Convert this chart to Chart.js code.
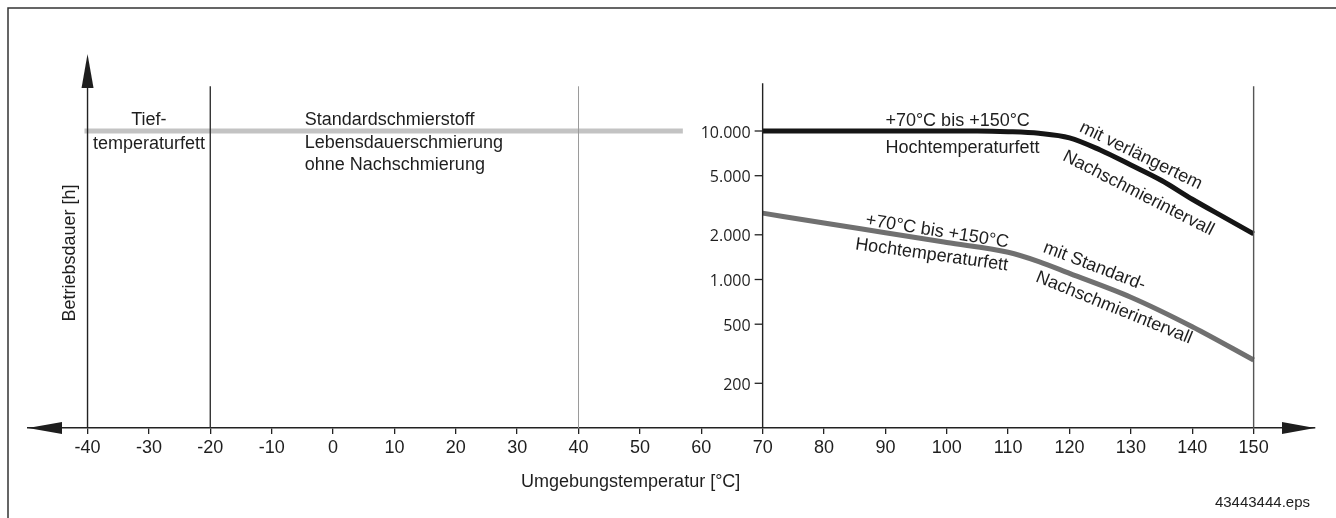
<!DOCTYPE html>
<html>
<head>
<meta charset="utf-8">
<script src="https://cdn.jsdelivr.net/npm/chart.js@4.4.1/dist/chart.umd.min.js"></script>
<style>
  body { margin: 0; background: #fff; }
  canvas { display: block; }
</style>
</head>
<body>
<canvas id="myChart" width="1336" height="518"></canvas>
<script>
// x axis tick values [°C]
const xTicks = [-40, -30, -20, -10, 0, 10, 20, 30, 40, 50, 60, 70, 80, 90, 100, 110, 120, 130, 140, 150];
// log axis ticks [h] (drawn at 70 °C)
const yTicks = [200, 500, 1000, 2000, 5000, 10000];
const yTickLabels = ['200', '500', '1.000', '2.000', '5.000', '10.000'];

// Standardschmierstoff, Lebensdauerschmierung
const stdTemps = [-40.5, 57];
const stdHours = [10000, 10000];

// Hochtemperaturfett, verlaengertes Nachschmierintervall
const extTemps = [70, 80, 90, 100, 105, 110, 115, 120, 125, 130, 135, 140, 145, 150];
const extHours = [10000, 10000, 10000, 10000, 10000, 9900, 9650, 9000, 7450, 5900, 4640, 3470, 2650, 2030];

// Hochtemperaturfett, Standard-Nachschmierintervall
const normTemps = [70, 80, 90, 100, 110, 115, 120, 130, 140, 150];
const normHours = [2800, 2400, 2065, 1775, 1525, 1320, 1100, 760, 481, 287];

// vertical separators
const sepTemps = [-20, 40, 70, 150];
const sepTop = [20000, 20000, 21000, 20000];
const sepColors = ['#333', '#9a9a9a', '#222', '#555'];

const textFont = '"Liberation Sans", Arial, sans-serif';
const ink = '#1e1e1e';

// annotation texts, positioned in data units
const notes = [
  { t: 'Tief-', x: -30, y: 12250, align: 'center', rot: 0 },
  { t: 'temperaturfett', x: -30, y: 8550, align: 'center', rot: 0 },
  { t: 'Standardschmierstoff', x: -4.6, y: 12250, align: 'left', rot: 0 },
  { t: 'Lebensdauerschmierung', x: -4.6, y: 8690, align: 'left', rot: 0 },
  { t: 'ohne Nachschmierung', x: -4.6, y: 6180, align: 'left', rot: 0 },
  { t: '+70°C bis +150°C', x: 90, y: 12050, align: 'left', rot: 0 },
  { t: 'Hochtemperaturfett', x: 90, y: 7930, align: 'left', rot: 0 },
  { t: 'mit verlängertem', x: 131.8, y: 7050, align: 'center', rot: 26 },
  { t: 'Nachschmierintervall', x: 131.4, y: 3940, align: 'center', rot: 27 },
  { t: '+70°C bis +150°C', x: 98.5, y: 2190, align: 'center', rot: 9 },
  { t: 'Hochtemperaturfett', x: 97.6, y: 1521, align: 'center', rot: 8 },
  { t: 'mit Standard-', x: 124.2, y: 1270, align: 'center', rot: 21 },
  { t: 'Nachschmierintervall', x: 127.4, y: 667, align: 'center', rot: 22 }
];

function pts(xs, ys) {
  return xs.map((v, i) => ({ x: v, y: ys[i] }));
}

const datasets = [];
sepTemps.forEach((t, i) => {
  datasets.push({
    data: [{ x: t, y: 100 }, { x: t, y: sepTop[i] }],
    borderColor: sepColors[i],
    borderWidth: i === 1 ? 1 : 1.4,
    pointRadius: 0
  });
});
datasets.push({
  data: pts(extTemps, extHours),
  borderColor: '#151515',
  borderWidth: 5,
  pointRadius: 0,
  cubicInterpolationMode: 'monotone'
});
datasets.push({
  data: pts(normTemps, normHours),
  borderColor: '#707070',
  borderWidth: 5,
  pointRadius: 0,
  cubicInterpolationMode: 'monotone'
});
datasets.push({
  data: pts(stdTemps, stdHours),
  borderColor: '#c3c3c3',
  borderWidth: 5,
  pointRadius: 0
});

function arrow(ctx, tx, ty, bx, by, half) {
  const dx = tx - bx, dy = ty - by;
  const len = Math.hypot(dx, dy);
  const nx = -dy / len, ny = dx / len;
  ctx.beginPath();
  ctx.moveTo(tx, ty);
  ctx.lineTo(bx + nx * half, by + ny * half);
  ctx.lineTo(bx - nx * half, by - ny * half);
  ctx.closePath();
  ctx.fill();
}

const decor = {
  id: 'decor',
  beforeDraw(chart) {
    const ctx = chart.ctx;
    ctx.save();
    ctx.fillStyle = '#fff';
    ctx.fillRect(0, 0, chart.width, chart.height);
    // frame
    ctx.strokeStyle = '#333';
    ctx.lineWidth = 1.5;
    ctx.beginPath();
    ctx.moveTo(8, chart.height);
    ctx.lineTo(8, 8);
    ctx.lineTo(chart.width, 8);
    ctx.stroke();
    ctx.restore();
  },
  afterDatasetsDraw(chart) {
    const ctx = chart.ctx;
    const area = chart.chartArea;
    const xs = chart.scales.x, ys = chart.scales.y;
    ctx.save();
    ctx.fillStyle = ink;
    ctx.strokeStyle = '#222';

    // y axis at -40 with arrow
    const x0 = xs.getPixelForValue(-40);
    ctx.lineWidth = 1.4;
    ctx.beginPath();
    ctx.moveTo(x0, area.bottom);
    ctx.lineTo(x0, area.top + 30);
    ctx.stroke();
    arrow(ctx, x0, area.top, x0, area.top + 34, 6);

    // x axis arrows
    const yAx = area.bottom;
    arrow(ctx, area.left, yAx, area.left + 34, yAx, 6);
    arrow(ctx, area.right, yAx, area.right - 33, yAx, 6);

    // log ticks on the 70 °C line
    const x70 = xs.getPixelForValue(70);
    ctx.lineWidth = 1.3;
    ctx.font = '16px "Open Sans", sans-serif';
    ctx.textAlign = 'right';
    ctx.textBaseline = 'middle';
    yTicks.forEach((v, i) => {
      const py = ys.getPixelForValue(v);
      ctx.beginPath();
      ctx.moveTo(x70 - 8, py);
      ctx.lineTo(x70, py);
      ctx.stroke();
      ctx.fillText(yTickLabels[i], x70 - 12, py + 2);
    });

    // annotations
    ctx.font = '18px ' + textFont;
    notes.forEach(n => {
      const px = xs.getPixelForValue(n.x);
      const py = ys.getPixelForValue(n.y);
      ctx.save();
      ctx.translate(px, py);
      ctx.rotate(n.rot * Math.PI / 180);
      ctx.textAlign = n.align;
      ctx.textBaseline = 'middle';
      ctx.fillText(n.t, 0, 2.5);
      ctx.restore();
    });

    // axis titles
    ctx.textAlign = 'center';
    ctx.textBaseline = 'middle';
    ctx.fillText('Umgebungstemperatur [°C]', xs.getPixelForValue(48.5), area.bottom + 54);
    ctx.save();
    ctx.translate(x0 - 18, area.top + 199);
    ctx.rotate(-Math.PI / 2);
    ctx.fillText('Betriebsdauer [h]', 0, 0);
    ctx.restore();

    ctx.font = '15px ' + textFont;
    ctx.textAlign = 'right';
    ctx.fillText('43443444.eps', chart.width - 26, chart.height - 15);
    ctx.restore();
  }
};

const chart_obj = document.getElementById('myChart');

new Chart(chart_obj, {
  type: 'line',
  data: { datasets: datasets },
  options: {
    responsive: false,
    devicePixelRatio: 1,
    animation: false,
    layout: { padding: { left: 28, right: 21, top: 54, bottom: 56.4 } },
    plugins: { legend: { display: false }, tooltip: { enabled: false } },
    scales: {
      x: {
        type: 'linear',
        min: -49.7,
        max: 160,
        afterBuildTicks: (scale) => { scale.ticks = xTicks.map(v => ({ value: v })); },
        grid: { drawOnChartArea: false, drawTicks: true, tickLength: 6, color: '#222', lineWidth: 1.3 },
        border: { display: true, color: '#222', width: 1.4 },
        ticks: {
          padding: 3,
          color: ink,
          maxRotation: 0,
          autoSkip: false,
          font: { family: textFont, size: 18 },
          callback: (v) => String(v)
        }
      },
      y: {
        type: 'logarithmic',
        display: false,
        min: 100,
        max: 33000
      }
    }
  },
  plugins: [decor]
});
</script>
</body>
</html>
